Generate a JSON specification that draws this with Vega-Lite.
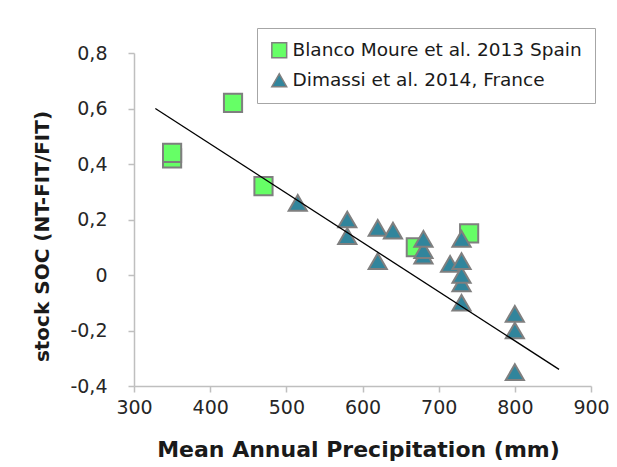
{
  "$schema": "https://vega.github.io/schema/vega-lite/v6.json",
  "autosize": {"type": "none"},
  "width": 457,
  "height": 333,
  "padding": {"left": 134, "top": 53, "right": 26, "bottom": 81},
  "background": "white",
  "config": {
    "font": "DejaVu Sans",
    "view": {"stroke": null},
    "axis": {
      "grid": false,
      "domainColor": "#bfbfbf",
      "domainWidth": 1.5,
      "tickColor": "#bfbfbf",
      "tickWidth": 1.5,
      "tickSize": 6,
      "labelFontSize": 19,
      "labelColor": "#262626",
      "labelFlush": false,
      "titleFontWeight": "bold",
      "titleColor": "#1a1a1a"
    },
    "legend": {
      "orient": "none",
      "legendX": 123,
      "legendY": -25,
      "strokeColor": "#a6a6a6",
      "fillColor": "white",
      "padding": 13,
      "labelFontSize": 18.5,
      "labelColor": "#1a1a1a",
      "symbolSize": 220,
      "symbolStrokeWidth": 1.5,
      "symbolStrokeColor": "#7f7f7f",
      "rowPadding": 9,
      "labelLimit": 400
    }
  },
  "datasets": {
    "points": [
      {"study": "Blanco Moure et al. 2013 Spain", "precip": 350, "soc": 0.42},
      {"study": "Blanco Moure et al. 2013 Spain", "precip": 350, "soc": 0.44},
      {"study": "Blanco Moure et al. 2013 Spain", "precip": 430, "soc": 0.62},
      {"study": "Blanco Moure et al. 2013 Spain", "precip": 470, "soc": 0.32},
      {"study": "Blanco Moure et al. 2013 Spain", "precip": 670, "soc": 0.10},
      {"study": "Blanco Moure et al. 2013 Spain", "precip": 740, "soc": 0.15},
      {"study": "Dimassi et al. 2014, France", "precip": 515, "soc": 0.26},
      {"study": "Dimassi et al. 2014, France", "precip": 580, "soc": 0.20},
      {"study": "Dimassi et al. 2014, France", "precip": 580, "soc": 0.14},
      {"study": "Dimassi et al. 2014, France", "precip": 620, "soc": 0.17},
      {"study": "Dimassi et al. 2014, France", "precip": 620, "soc": 0.05},
      {"study": "Dimassi et al. 2014, France", "precip": 640, "soc": 0.16},
      {"study": "Dimassi et al. 2014, France", "precip": 680, "soc": 0.07},
      {"study": "Dimassi et al. 2014, France", "precip": 680, "soc": 0.09},
      {"study": "Dimassi et al. 2014, France", "precip": 680, "soc": 0.13},
      {"study": "Dimassi et al. 2014, France", "precip": 715, "soc": 0.04},
      {"study": "Dimassi et al. 2014, France", "precip": 730, "soc": -0.10},
      {"study": "Dimassi et al. 2014, France", "precip": 730, "soc": -0.03},
      {"study": "Dimassi et al. 2014, France", "precip": 730, "soc": 0.0},
      {"study": "Dimassi et al. 2014, France", "precip": 730, "soc": 0.05},
      {"study": "Dimassi et al. 2014, France", "precip": 730, "soc": 0.13},
      {"study": "Dimassi et al. 2014, France", "precip": 800, "soc": -0.35},
      {"study": "Dimassi et al. 2014, France", "precip": 800, "soc": -0.20},
      {"study": "Dimassi et al. 2014, France", "precip": 800, "soc": -0.14}
    ],
    "fit": [
      {"precip": 328, "soc": 0.60},
      {"precip": 858, "soc": -0.34}
    ]
  },
  "layer": [
    {
      "data": {"name": "points"},
      "mark": {"type": "point", "filled": true, "opacity": 1, "stroke": "#7f7f7f", "strokeWidth": 2, "size": 330},
      "encoding": {
        "x": {
          "field": "precip", "type": "quantitative",
          "scale": {"domain": [300, 900]},
          "axis": {"values": [300, 400, 500, 600, 700, 800, 900], "title": "Mean Annual Precipitation (mm)", "titleFontSize": 22, "titleX": 224, "labelPadding": 6, "titlePadding": 22}
        },
        "y": {
          "field": "soc", "type": "quantitative",
          "scale": {"domain": [-0.4, 0.8]},
          "axis": {
            "values": [-0.4, -0.2, 0, 0.2, 0.4, 0.6, 0.8],
            "title": "stock SOC (NT-FIT/FIT)",
            "titleFontSize": 20,
            "titleY": 183,
            "labelPadding": 21,
            "titlePadding": 17,
            "labelExpr": "datum.value == 0 ? '0' : (datum.value < 0 ? '-' : '') + replace(format(abs(datum.value), '.1f'), '.', ',')"
          }
        },
        "shape": {
          "field": "study", "type": "nominal",
          "scale": {"domain": ["Blanco Moure et al. 2013 Spain", "Dimassi et al. 2014, France"], "range": ["square", "triangle-up"]},
          "legend": {"title": null}
        },
        "color": {
          "field": "study", "type": "nominal",
          "scale": {"domain": ["Blanco Moure et al. 2013 Spain", "Dimassi et al. 2014, France"], "range": ["#66FF66", "#31859C"]},
          "legend": {"title": null}
        }
      }
    },
    {
      "data": {"name": "fit"},
      "mark": {"type": "line", "color": "black", "strokeWidth": 1.3},
      "encoding": {
        "x": {"field": "precip", "type": "quantitative"},
        "y": {"field": "soc", "type": "quantitative"}
      }
    }
  ]
}
